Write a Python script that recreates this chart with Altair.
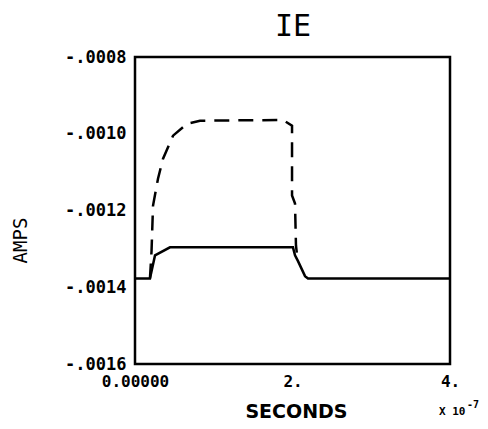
import altair as alt
import pandas as pd

# time in units of 1e-7 s, current in amps
solid_t = [0.0, 0.19, 0.254, 0.444, 2.006, 2.032, 2.070, 2.159, 2.197, 4.0]
solid_a = [-0.001377, -0.001377, -0.001317, -0.001296, -0.001296, -0.001317,
           -0.001332, -0.001371, -0.001377, -0.001377]

dashed_t = [0.19, 0.210, 0.229, 0.292, 0.356, 0.483, 0.660, 0.825, 1.879,
            1.994, 1.994, 2.032, 2.044, 2.06]
dashed_a = [-0.001377, -0.001306, -0.001187, -0.001117, -0.001065, -0.001005,
            -0.000974, -0.000966, -0.000964, -0.000979, -0.001161, -0.001182,
            -0.001291, -0.001320]

x_ticks = [0, 2, 4]
y_ticks = [-0.0016, -0.0014, -0.0012, -0.0010, -0.0008]

solid_df = pd.DataFrame({"t": solid_t, "amps": solid_a, "i": list(range(len(solid_t)))})
dashed_df = pd.DataFrame({"t": dashed_t, "amps": dashed_a, "i": list(range(len(dashed_t)))})

xs = alt.Scale(domain=[0, 4], nice=False, zero=False)
ys = alt.Scale(domain=[-0.0016, -0.0008], nice=False, zero=False)

x_axis = alt.Axis(
    values=x_ticks, title="SECONDS", grid=False, ticks=False, domain=False,
    labelExpr="datum.value == 0 ? '0.00000' : format(datum.value, 'd') + '.'",
    labelFont="DejaVu Sans Mono", labelFontSize=16, labelFontWeight="bold",
    labelColor="black", labelPadding=9, labelFlush=False,
    titleFont="DejaVu Sans", titleFontSize=19, titleFontWeight="bold",
    titleColor="black", titleX=161, titleY=47, titleBaseline="middle",
    titleAlign="center",
)
y_axis = alt.Axis(
    values=y_ticks, title="AMPS", grid=False, ticks=False, domain=False,
    labelExpr="'-' + replace(format(abs(datum.value), '.4f'), '0.', '.')",
    labelFont="DejaVu Sans Mono", labelFontSize=17, labelFontWeight="bold",
    labelColor="black", labelPadding=9, labelFlush=False,
    titleFont="DejaVu Sans Mono", titleFontSize=19, titleFontWeight="normal",
    titleColor="black", titleX=-115, titleY=183, titleBaseline="middle",
    titleAlign="center", titleAngle=-90,
)

solid = alt.Chart(solid_df).mark_line(color="black", strokeWidth=2.5).encode(
    x=alt.X("t:Q", scale=xs, axis=x_axis),
    y=alt.Y("amps:Q", scale=ys, axis=y_axis),
    order="i:Q",
)
dashed = alt.Chart(dashed_df).mark_line(
    color="black", strokeWidth=2.5, strokeDash=[15, 9]
).encode(
    x=alt.X("t:Q", scale=xs),
    y=alt.Y("amps:Q", scale=ys),
    order="i:Q",
)

title = alt.Chart(pd.DataFrame({"s": ["IE"]})).mark_text(
    font="DejaVu Sans Mono", fontSize=30, align="center",
    baseline="alphabetic", color="black"
).encode(x=alt.value(158), y=alt.value(-21), text="s:N")
note = alt.Chart(pd.DataFrame({"s": ["X 10"]})).mark_text(
    font="DejaVu Sans Mono", fontSize=11, fontWeight="bold", align="left",
    baseline="middle", color="black"
).encode(x=alt.value(304), y=alt.value(355), text="s:N")
exp = alt.Chart(pd.DataFrame({"s": ["-7"]})).mark_text(
    font="DejaVu Sans Mono", fontSize=10, fontWeight="bold", align="left",
    baseline="middle", color="black"
).encode(x=alt.value(332), y=alt.value(348), text="s:N")

chart = alt.layer(solid, dashed, title, note, exp).properties(
    width=315, height=307,
    padding={"left": 127, "top": 49, "right": 30, "bottom": 57},
    autosize="none",
).configure(background="white").configure_view(stroke="black", strokeWidth=2.5)

chart.save("out.html", embed_options={"renderer": "svg", "actions": False})
